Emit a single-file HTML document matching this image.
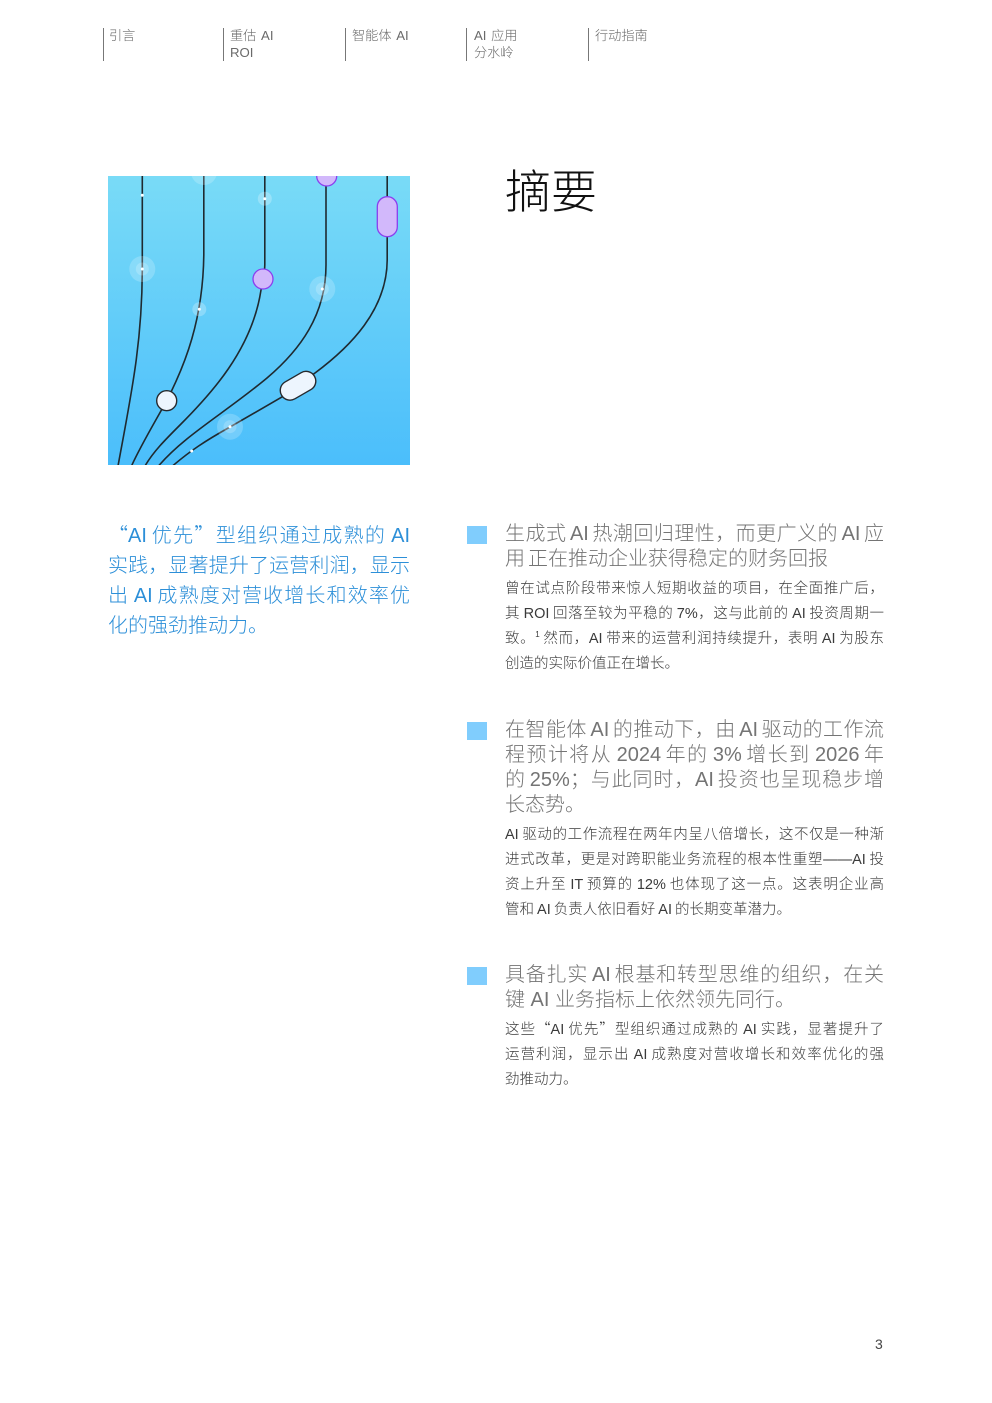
<!DOCTYPE html>
<html lang="zh"><head><meta charset="utf-8"><style>
html,body{margin:0;padding:0;background:#fff}
#p{position:relative;width:992px;height:1403px;overflow:hidden;background:#fff;font-family:"Liberation Sans","Noto Sans CJK SC",sans-serif;font-weight:300}
.t{position:absolute;white-space:nowrap}
.j{text-align:justify;text-align-last:justify;white-space:normal}
.n{font-size:13.200px;color:#6a6a6a;line-height:17px;word-spacing:1px}
.b{position:absolute;width:1px;height:33px;top:28px;background:#777}
.q{font-size:20px;color:#2c8fd8;left:108px;width:302px;height:30px;line-height:30px;word-spacing:-2px}
.h{font-size:20px;color:#747474;left:505px;width:379px;height:25px;line-height:25px;word-spacing:-2.500px}
.d{font-size:14.500px;color:#3a3a3a;left:505px;width:379px;height:25px;line-height:25px;word-spacing:-1px}
.s{position:absolute;left:467px;width:20px;height:18px;background:#80cdfd}
.c{font-family:"Noto Sans CJK SC",sans-serif}
</style></head><body><div id="p">
<div class="b" style="left:103px"></div><div class="b" style="left:223px"></div><div class="b" style="left:345px"></div><div class="b" style="left:466px"></div><div class="b" style="left:588px"></div>
<div class="t n" style="left:109px;top:27px">引言</div>
<div class="t n" style="left:230px;top:27px">重估 AI<br>ROI</div>
<div class="t n" style="left:352px;top:27px">智能体 AI</div>
<div class="t n" style="left:474px;top:27px">AI 应用<br>分水岭</div>
<div class="t n" style="left:595px;top:27px">行动指南</div>

<svg style="position:absolute;left:0;top:0" width="992" height="1403" viewBox="0 0 992 1403">
<defs><linearGradient id="g" x1="0" y1="0" x2="0" y2="1"><stop offset="0" stop-color="#79dbf7"/><stop offset="1" stop-color="#4bbefb"/></linearGradient>
<clipPath id="c"><rect x="108" y="176" width="302" height="289"/></clipPath></defs>
<rect x="108" y="176" width="302" height="289" fill="url(#g)"/>
<g clip-path="url(#c)">
<g fill="none" stroke="#1f2a30" stroke-width="1.600">
<path d="M142.300 170V270C142 345 131 395 118 466"/>
<path d="M203.800 170V255C203 320 185 365 167 400C155 422 141 445 131.500 466"/>
<path d="M264.800 170V265C264 285 262 285 261 290C252 350 210 395 180 425C165 440 153 452 145 466"/>
<path d="M326 170V265C326 315 300 350 267 378C225 413 185 435 158.500 466"/>
<path d="M387.200 170V260C387 310 350 347 315 373L282 397L230 427C205 441 190 451 172.500 466"/>
</g>
<g fill="#fff">
<circle cx="204" cy="172" r="13" opacity=".2"/><circle cx="142.300" cy="269" r="13" opacity=".2"/><circle cx="142.300" cy="269" r="6.500" opacity=".2"/>
<circle cx="322.300" cy="289" r="13" opacity=".2"/><circle cx="322.300" cy="289" r="6.500" opacity=".2"/>
<circle cx="230" cy="426.700" r="13" opacity=".2"/><circle cx="230" cy="426.700" r="6.500" opacity=".2"/>
<circle cx="264.800" cy="198.700" r="7" opacity=".25"/><circle cx="199.300" cy="309.300" r="7" opacity=".25"/>
<circle cx="142.300" cy="195.300" r="1.500"/><circle cx="142.300" cy="269" r="1.500"/><circle cx="264.800" cy="198.700" r="1.500"/><circle cx="199.300" cy="309.300" r="1.500"/><circle cx="322.300" cy="289" r="1.500"/><circle cx="230" cy="426.700" r="1.500"/><circle cx="191.700" cy="451" r="1.500"/>
</g>
<g fill="#d2b8fb" stroke="#8a3fee" stroke-width="1.300">
<circle cx="326.700" cy="176" r="10"/><circle cx="263" cy="279" r="10"/><rect x="377.300" y="196.700" width="20" height="40" rx="10"/>
</g>
<g fill="#edf5fe" stroke="#26292e" stroke-width="1.400">
<circle cx="166.700" cy="400.700" r="10"/><rect x="279" y="376" width="38" height="19.500" rx="9.750" transform="rotate(-30 298 385.700)"/>
</g>
</g>
</svg>

<div class="t" style="left:505px;top:157px;font-size:46px;line-height:70px;color:#111;font-weight:300">摘要</div>

<div class="t q j" style="top:519px"><span class="c">“</span>AI 优先<span class="c">”</span>型组织通过成熟的 AI</div>
<div class="t q j" style="top:551px">实践，显著提升了运营利润，显示</div>
<div class="t q j" style="top:581px">出 AI 成熟度对营收增长和效率优</div>
<div class="t q" style="top:611px">化的强劲推动力。</div>

<div class="s" style="top:526px"></div>
<div class="t h j" style="top:522px">生成式 AI 热潮回归理性，而更广义的 AI 应</div>
<div class="t h" style="top:547px">用 正在推动企业获得稳定的财务回报</div>
<div class="t d j" style="top:577px">曾在试点阶段带来惊人短期收益的项目，在全面推广后，</div>
<div class="t d j" style="top:602px">其 ROI 回落至较为平稳的 7%，这与此前的 AI 投资周期一</div>
<div class="t d j" style="top:627px">致。<sup style="font-size:8px;line-height:0">1</sup> 然而，AI 带来的运营利润持续提升，表明 AI 为股东</div>
<div class="t d" style="top:652px">创造的实际价值正在增长。</div>

<div class="s" style="top:722px"></div>
<div class="t h j" style="top:718px">在智能体 AI 的推动下，由 AI 驱动的工作流</div>
<div class="t h j" style="top:743px">程预计将从 2024 年的 3% 增长到 2026 年</div>
<div class="t h j" style="top:768px">的 25%；与此同时，AI 投资也呈现稳步增</div>
<div class="t h" style="top:793px">长态势。</div>
<div class="t d j" style="top:823px">AI 驱动的工作流程在两年内呈八倍增长，这不仅是一种渐</div>
<div class="t d j" style="top:848px">进式改革，更是对跨职能业务流程的根本性重塑——AI 投</div>
<div class="t d j" style="top:873px">资上升至 IT 预算的 12% 也体现了这一点。这表明企业高</div>
<div class="t d" style="top:898px">管和 AI 负责人依旧看好 AI 的长期变革潜力。</div>

<div class="s" style="top:967px"></div>
<div class="t h j" style="top:963px">具备扎实 AI 根基和转型思维的组织，在关</div>
<div class="t h" style="top:988px;word-spacing:0">键 AI 业务指标上依然领先同行。</div>
<div class="t d j" style="top:1016px">这些<span class="c">“</span>AI 优先<span class="c">”</span>型组织通过成熟的 AI 实践，显著提升了</div>
<div class="t d j" style="top:1043px">运营利润，显示出 AI 成熟度对营收增长和效率优化的强</div>
<div class="t d" style="top:1068px">劲推动力。</div>

<div class="t" style="left:875px;top:1335px;font-size:14px;line-height:18px;color:#444;font-weight:400">3</div>
</div></body></html>
